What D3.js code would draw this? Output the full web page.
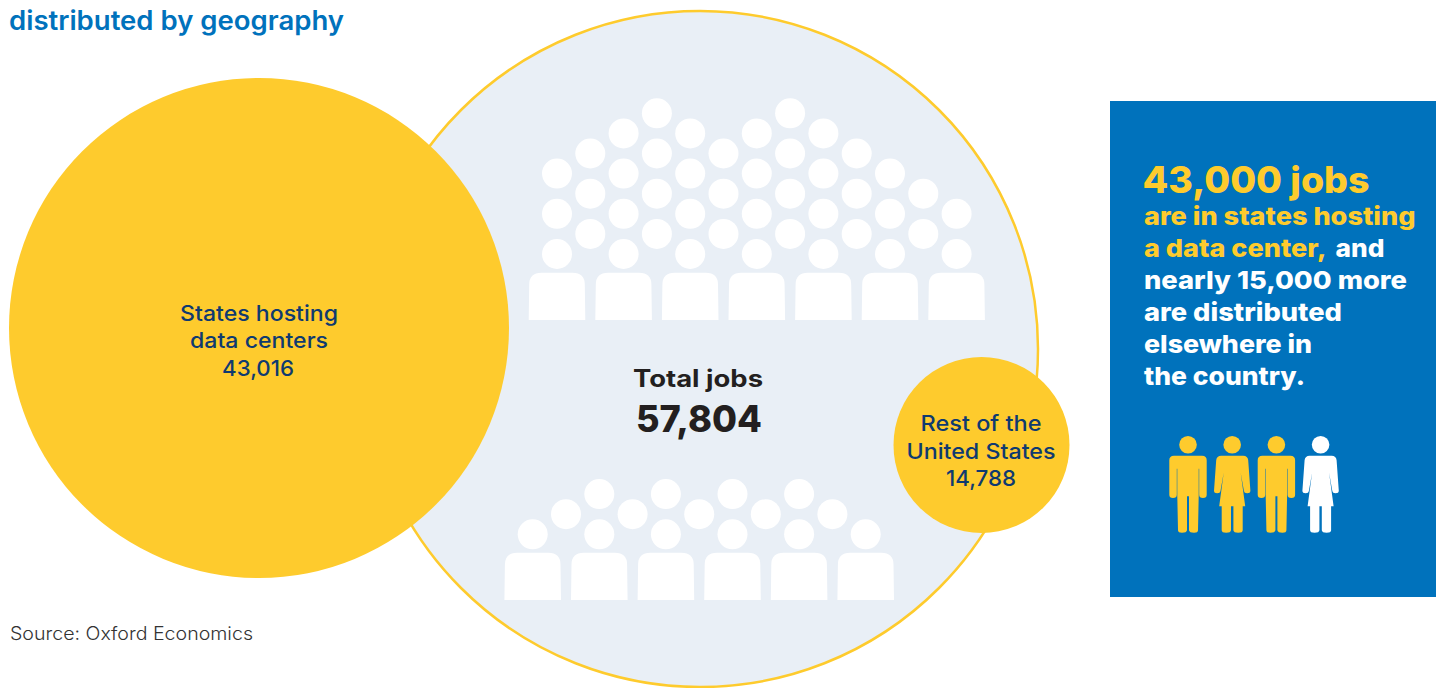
<!DOCTYPE html>
<html>
<head>
<meta charset="utf-8">
<script src="https://cdn.jsdelivr.net/npm/d3@7"></script>
<style>
html,body{margin:0;padding:0;background:#fff;overflow:hidden}
svg{display:block}
text{font-family:"Inter","Noto Sans",sans-serif}
</style>
</head>
<body>
<div id="chart"></div>
<script>
const regionNames = ["States hosting data centers", "Total jobs", "Rest of the United States"];
const regionJobs = [43016, 57804, 14788];
const totalJobs = 57804;

// Number of heads stacked in each column of the two audience groups.
const upperColumnHeads = [3, 3, 4, 4, 4, 3, 4, 4, 4, 3, 3, 2, 2];
const lowerColumnHeads = [1, 1, 2, 1, 2, 1, 2, 1, 2, 1, 1];

const figureKinds = ["man", "woman", "man", "woman"];
const figureFills = ["#fecb2d", "#fecb2d", "#fecb2d", "#ffffff"];

const YELLOW = "#fecb2d", BLUE = "#0072bc", PALE = "#e9eff6", NAVY = "#0f3a70", INK = "#231f20";

const svg = d3.select("#chart").append("svg").attr("width", 1436).attr("height", 688);

// Writes one line of text stretched to a set width, so the wide display
// proportions hold with the installed sans.
function label(x, y, width, size, weight, fill, str, anchor) {
  svg.append("text").attr("x", x).attr("y", y)
    .attr("text-anchor", anchor || "start")
    .attr("font-size", size).attr("font-weight", weight).attr("fill", fill)
    .attr("textLength", width).attr("lengthAdjust", "spacingAndGlyphs")
    .text(str);
}

label(9, 30, 335, 26.5, 600, BLUE, "distributed by geography");

// Circle radii are proportional to the job counts.
const radius = d3.scaleLinear().domain([0, 57804]).range([0, 338]);

const big = { x: 700, y: 349 };
svg.append("circle").attr("cx", big.x).attr("cy", big.y).attr("r", radius(regionJobs[1]))
  .attr("fill", PALE).attr("stroke", YELLOW).attr("stroke-width", 2.5);

// Audience of head-and-shoulder icons, laid out on a staggered grid.
function audience(g, columnHeads, x0, baseHeadY, bodyBottom) {
  const stepX = 33.3, stepY = 20.1;
  const col = d3.scaleLinear().domain([0, 1]).range([x0, x0 + stepX]);
  const lvl = d3.scaleLinear().domain([0, 1]).range([baseHeadY, baseHeadY - stepY]);
  columnHeads.forEach((n, c) => {
    d3.range(n).forEach(k => {
      g.append("circle").attr("cx", col(c)).attr("cy", lvl((c % 2) + k * 2))
        .attr("r", 15).attr("fill", "#fff");
    });
    if (c % 2 === 0) {
      const x = col(c), t = bodyBottom - 47.3;
      g.append("path").attr("fill", "#fff").attr("d",
        `M${x - 28.3},${bodyBottom}L${x - 27.8},${t + 12}Q${x - 27.8},${t} ${x - 15.5},${t}` +
        `L${x + 15.5},${t}Q${x + 27.8},${t} ${x + 27.8},${t + 12}L${x + 28.3},${bodyBottom}Z`);
    }
  });
}
audience(svg.append("g"), upperColumnHeads, 557, 254, 320);
audience(svg.append("g"), lowerColumnHeads, 532.7, 534.3, 600);

svg.append("circle").attr("cx", 259).attr("cy", 328).attr("r", 250).attr("fill", YELLOW);
svg.append("circle").attr("cx", 981.5).attr("cy", 445).attr("r", 88).attr("fill", YELLOW);

const fmt = d3.format(",");
label(259, 321, 158, 21.5, 500, NAVY, "States hosting", "middle");
label(259, 348, 138, 21.5, 500, NAVY, "data centers", "middle");
label(258, 376, 72, 21.5, 500, NAVY, fmt(regionJobs[0]), "middle");
label(698, 387, 130, 24, 700, INK, regionNames[1], "middle");
label(699, 431.5, 126, 36.5, 800, INK, fmt(totalJobs), "middle");
label(981, 431, 121, 21.5, 500, NAVY, "Rest of the", "middle");
label(981, 459, 149, 21.5, 500, NAVY, "United States", "middle");
label(981, 486, 70, 21.5, 500, NAVY, fmt(regionJobs[2]), "middle");

label(10, 640, 243, 18, 300, "#333333", "Source: Oxford Economics");

// Callout panel
svg.append("rect").attr("x", 1110).attr("y", 101).attr("width", 326).attr("height", 496).attr("fill", BLUE);
label(1142.5, 193, 227, 37, 800, YELLOW, "43,000 jobs");
label(1144, 225, 271.5, 25, 800, YELLOW, "are in states hosting");
label(1144, 257, 182.5, 25, 800, YELLOW, "a data center,");
label(1335.5, 257, 49, 25, 800, "#ffffff", "and");
label(1144, 289, 263, 25, 800, "#ffffff", "nearly 15,000 more");
label(1144, 321, 198, 25, 800, "#ffffff", "are distributed");
label(1144, 353, 168, 25, 800, "#ffffff", "elsewhere in");
label(1144, 385, 161, 25, 800, "#ffffff", "the country.");

// Pictogram figures
const manPath = "M-18.7,15.5Q-18.7,11 -14,11L14,11Q18.7,11 18.7,15.5L18.7,50Q18.7,53.3 15,53.3Q11.2,53.3 11.2,50L11.2,24L10.7,24L10.7,51.3L10,85.5Q10,88 6,88Q1.5,88 1,85.5L1,51.5L-1,51.5L-1,85.5Q-1.5,88 -6,88Q-10,88 -10,85.5L-10.7,51.3L-10.7,24L-11.2,24L-11.2,50Q-11.2,53.3 -15,53.3Q-18.7,53.3 -18.7,50Z";
const womanPath = "M-11,11L11,11Q15.5,11 16,15.5L18.2,46Q18.2,48.5 15,48.5Q12,48.5 11.7,46L8.5,28L13,61.5L10.5,61.5L10.5,85.5Q10.5,88 6,88Q1.5,88 1.2,85.5L1.2,61.5L-1.2,61.5L-1.2,85.5Q-1.5,88 -6,88Q-10.5,88 -10.5,85.5L-10.5,61.5L-13,61.5L-8.5,28L-11.7,46Q-12,48.5 -15,48.5Q-18.2,48.5 -18.2,46L-16,15.5Q-15.5,11 -11,11Z";
const figX = d3.scalePoint().domain(d3.range(figureKinds.length)).range([1188, 1320.6]);
figureKinds.forEach((kind, i) => {
  const g = svg.append("g").attr("transform", `translate(${figX(i)},444.7)`).attr("fill", figureFills[i]);
  g.append("circle").attr("r", 8.8);
  g.append("path").attr("d", kind === "man" ? manPath : womanPath);
});
</script>
</body>
</html>
